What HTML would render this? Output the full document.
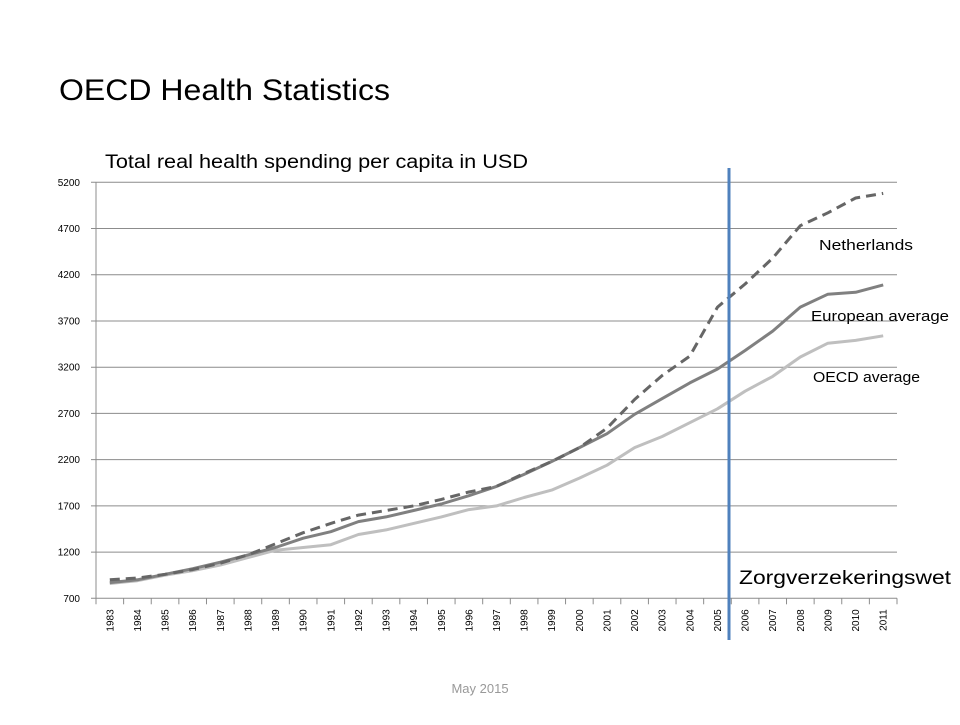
<!DOCTYPE html>
<html><head><meta charset="utf-8"><style>
body{margin:0;background:#fff;width:960px;height:720px;overflow:hidden;font-family:"Liberation Sans",sans-serif}
svg text{font-family:"Liberation Sans",sans-serif}
</style></head><body>
<svg id="c" width="960" height="720">
<text x="59" y="100" font-size="30" textLength="331" lengthAdjust="spacingAndGlyphs" fill="#000">OECD Health Statistics</text>
<text x="105" y="168" font-size="19" textLength="423" lengthAdjust="spacingAndGlyphs" fill="#000">Total real health spending per capita in USD</text>
<text x="480" y="693" font-size="13" fill="#999" text-anchor="middle">May 2015</text>
<g id="grid"></g><g id="lines"></g>
<line x1="729" y1="168" x2="729" y2="640" stroke="#4f81bd" stroke-width="3"/>
<text x="739" y="584" font-size="19" textLength="212" lengthAdjust="spacingAndGlyphs" fill="#000">Zorgverzekeringswet</text>
<text x="819" y="250" font-size="15" textLength="94" lengthAdjust="spacingAndGlyphs" fill="#000">Netherlands</text>
<text x="811" y="321" font-size="15" textLength="138" lengthAdjust="spacingAndGlyphs" fill="#000">European average</text>
<text x="813" y="382" font-size="15" textLength="107" lengthAdjust="spacingAndGlyphs" fill="#000">OECD average</text>
</svg>
<script>
const years=[1983,1984,1985,1986,1987,1988,1989,1990,1991,1992,1993,1994,1995,1996,1997,1998,1999,2000,2001,2002,2003,2004,2005,2006,2007,2008,2009,2010,2011];
const euro=[870,900,960,1020,1090,1170,1250,1350,1420,1530,1580,1650,1720,1810,1910,2040,2180,2330,2480,2690,2860,3030,3180,3380,3590,3850,3990,4010,4090];
const oecd=[860,890,950,1000,1060,1140,1220,1250,1280,1390,1440,1510,1580,1660,1700,1790,1870,2000,2140,2330,2450,2600,2750,2940,3100,3310,3460,3490,3540];
const nl=[900,920,960,1010,1080,1170,1290,1410,1510,1600,1650,1700,1770,1850,1910,2050,2180,2330,2540,2850,3110,3320,3850,4100,4380,4730,4870,5030,5080];
const yTicks=[700,1200,1700,2200,2700,3200,3700,4200,4700,5200];
const NS='http://www.w3.org/2000/svg';
const L=96,R=897,T=182.3,B=598.3,ymin=700,ymax=5200;
const bw=(R-L)/years.length;
const xs=i=>L+bw*(i+0.5);
const ys=v=>B-(v-ymin)/(ymax-ymin)*(B-T);
const g=document.getElementById('grid'),lg=document.getElementById('lines');
function mk(t,a,p){const e=document.createElementNS(NS,t);for(const k in a)e.setAttribute(k,a[k]);p.appendChild(e);return e;}
yTicks.forEach(v=>{
 const y=ys(v);
 const gl=mk('line',{x1:L-5,x2:R,y1:y,y2:y,stroke:'#8c8c8c','stroke-width':1},g);
 
 
 const t=mk('text',{x:L-16,y:y+3.5,'font-size':10,'text-anchor':'end',fill:'#000'},g);
 t.textContent=v;
 
 
});
const ax=mk('line',{x1:L,x2:L,y1:T,y2:B,stroke:'#8c8c8c','stroke-width':1},g);


for(let i=0;i<=years.length;i++){
 const x=L+bw*i;
 const tk=mk('line',{x1:x,x2:x,y1:B,y2:B+6,stroke:'#8c8c8c','stroke-width':1},g);
 
 
}
years.forEach((yr,i)=>{
 const x=xs(i)+3.5,y=B+11;
 const t=mk('text',{x:x,y:y,'font-size':10,'text-anchor':'end',fill:'#000',transform:`rotate(-90 ${x} ${y})`},g);
 t.textContent=yr;
 
 
});
function series(vals,color,dash,name){
 const d=vals.map((v,i)=>(i?'L':'M')+xs(i).toFixed(1)+','+ys(v).toFixed(1)).join(' ');
 const p=mk('path',{d:d,fill:'none',stroke:color,'stroke-width':3,'stroke-linejoin':'round'},lg);
 if(dash)p.setAttribute('stroke-dasharray',dash);
 
 
}
series(oecd,'#bfbfbf',null,'oecd-average-line');
series(euro,'#808080',null,'european-average-line');
series(nl,'#666666','10,6','netherlands-line');
</script>
</body></html>
